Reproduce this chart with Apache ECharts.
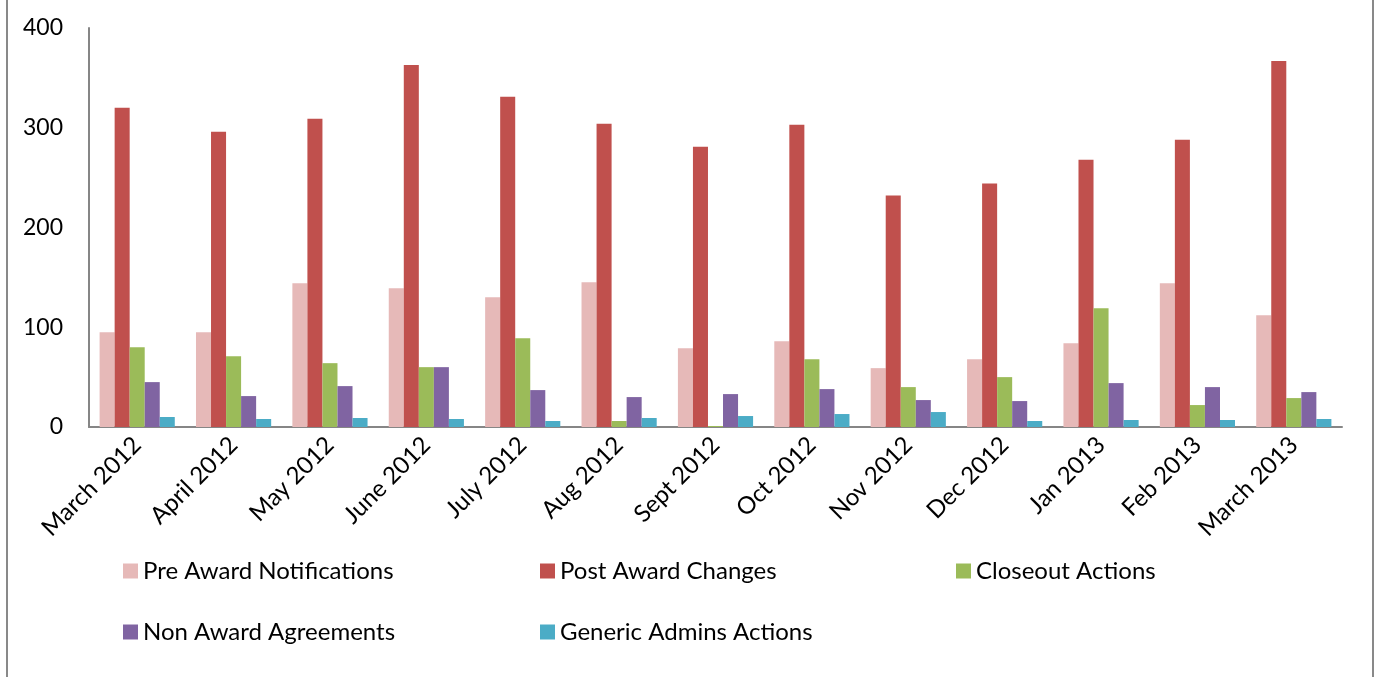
<!DOCTYPE html>
<html>
<head>
<meta charset="utf-8">
<script src="https://cdn.jsdelivr.net/npm/echarts@6/dist/echarts.min.js"></script>
<style>
  html, body { margin: 0; padding: 0; background: #fff; overflow: hidden; }
  #frame { position: absolute; left: 6px; width: 1364px; top: -10px; height: 700px; border: 2px solid #898989; }
  #main { position: absolute; left: 0; top: 0; width: 1380px; height: 677px; }
</style>
</head>
<body>
<div id="frame"></div>
<div id="main"></div>
<script>
  // months on the x axis
  var categories = ['March 2012', 'April 2012', 'May 2012', 'June 2012', 'July 2012', 'Aug 2012',
    'Sept 2012', 'Oct 2012', 'Nov 2012', 'Dec 2012', 'Jan 2013', 'Feb 2013', 'March 2013']
  var seriesNames = ['Pre Award Notifications', 'Post Award Changes', 'Closeout Actions',
    'Non Award Agreements', 'Generic Admins Actions']
  var preAward = [95, 95, 144, 139, 130, 145, 79, 86, 59, 68, 84, 144, 112]
  var postAward = [320, 296, 309, 363, 331, 304, 281, 303, 232, 244, 268, 288, 367]
  var closeout = [80, 71, 64, 60, 89, 6, 1, 68, 40, 50, 119, 22, 29]
  var nonAward = [45, 31, 41, 60, 37, 30, 33, 38, 27, 26, 44, 40, 35]
  var genericAdmin = [10, 8, 9, 8, 6, 9, 11, 13, 15, 6, 7, 7, 8]
  var yTicks = [0, 100, 200, 300, 400]

  var colors = ['#E6B9B8', '#C0504D', '#9BBB59', '#8064A2', '#4BACC6']
  var values = [preAward, postAward, closeout, nonAward, genericAdmin]
  var font = 'Lato, "Open Sans", sans-serif'

  // legend laid out like excel: two rows, fixed columns
  var legendPos = [
    {left: 123, top: 559},
    {left: 540, top: 559},
    {left: 956, top: 559},
    {left: 123, top: 620},
    {left: 540, top: 620}
  ]

  var chart = echarts.init(document.getElementById('main'))
  chart.setOption({
    animation: false,
    color: colors,
    grid: {left: 89, right: 38, top: 28, bottom: 250, containLabel: false},
    legend: seriesNames.map(function (name, i) {
      return {
        data: [name],
        left: legendPos[i].left,
        top: legendPos[i].top,
        padding: 0,
        icon: 'rect',
        itemWidth: 15,
        itemHeight: 15,
        textStyle: {fontSize: 24, color: '#000', fontFamily: font}
      }
    }),
    xAxis: {
      type: 'category',
      data: categories,
      axisLine: {lineStyle: {color: '#868686', width: 2}},
      axisTick: {show: false},
      axisLabel: {
        rotate: 45,
        interval: 0,
        margin: 14,
        fontSize: 24,
        color: '#000',
        fontFamily: font
      }
    },
    yAxis: {
      type: 'value',
      min: yTicks[0],
      max: yTicks[yTicks.length - 1],
      interval: 100,
      splitLine: {show: false},
      axisLine: {show: true, lineStyle: {color: '#868686', width: 2}},
      axisTick: {show: false},
      axisLabel: {margin: 26, fontSize: 23, color: '#000', fontFamily: font}
    },
    series: seriesNames.map(function (name, i) {
      return {
        name: name,
        type: 'bar',
        data: values[i],
        barGap: '0%',
        barCategoryGap: '22%',
        itemStyle: {color: colors[i]}
      }
    })
  })
</script>
</body>
</html>
